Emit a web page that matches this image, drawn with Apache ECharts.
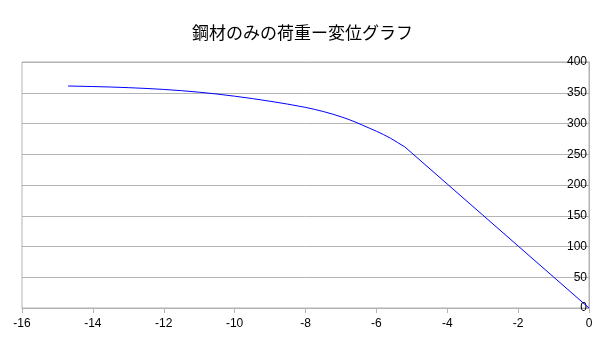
<!DOCTYPE html>
<html>
<head>
<meta charset="utf-8">
<script src="https://cdn.jsdelivr.net/npm/echarts@6/dist/echarts.min.js"></script>
<style>html,body{margin:0;padding:0;background:#fff;}#c{width:605px;height:340px;}</style>
</head>
<body>
<div id="c"></div>
<script>
const titleText = '鋼材のみの荷重ー変位グラフ';
const displacement = [0, -1, -2, -3, -4, -5, -5.2, -5.4, -5.6, -5.8, -6.0, -6.2, -6.4, -6.6, -6.8, -7.0, -7.25, -7.5, -7.75, -8.0, -8.5, -9.0, -9.5, -10.0, -10.5, -11.0, -11.5, -12.0, -12.5, -13.0, -13.5, -14.0, -14.7];
const load = [0, 50.4, 100.8, 151.2, 201.6, 252, 262, 269, 276, 282, 287.5, 292.5, 297.5, 302.5, 307, 311, 315.5, 319.5, 323, 326.2, 331.5, 336.2, 340.5, 344.4, 347.9, 350.9, 353.4, 355.4, 357, 358.3, 359.3, 360.1, 361];
const xTicks = { min: -16, max: 0, interval: 2 };
const yTicks = { min: 0, max: 400, interval: 50 };

const chart = echarts.init(document.getElementById('c'), null, { renderer: 'canvas' });
chart.setOption({
  backgroundColor: '#fff',
  animation: false,
  title: {
    text: titleText, left: 'center', top: 19,
    textStyle: { fontFamily: 'Noto Sans CJK JP', fontSize: 17, fontWeight: 'normal', color: '#000' }
  },
  grid: { left: 22, right: 16, top: 62, bottom: 32, show: true, borderColor: '#b3b3b3', borderWidth: 1 },
  xAxis: {
    type: 'value', min: xTicks.min, max: xTicks.max, interval: xTicks.interval,
    axisLine: { show: true, lineStyle: { color: '#b3b3b3' } },
    axisTick: { show: true, length: 5, lineStyle: { color: '#b3b3b3' } },
    splitLine: { show: false },
    axisLabel: { margin: 10, color: '#000', fontFamily: 'Liberation Sans', fontSize: 12 }
  },
  yAxis: {
    type: 'value', position: 'right', min: yTicks.min, max: yTicks.max, interval: yTicks.interval,
    axisLine: { show: true, lineStyle: { color: '#b3b3b3' } },
    axisTick: { show: false },
    splitLine: { show: true, lineStyle: { color: '#b3b3b3' } },
    axisLabel: { inside: true, margin: 2, color: '#000', fontFamily: 'Liberation Sans', fontSize: 12 }
  },
  series: [{
    type: 'line',
    data: displacement.map((x, i) => [x, load[i]]),
    showSymbol: false, smooth: false,
    lineStyle: { color: '#0000ff', width: 1 }
  }]
});
</script>
</body>
</html>
